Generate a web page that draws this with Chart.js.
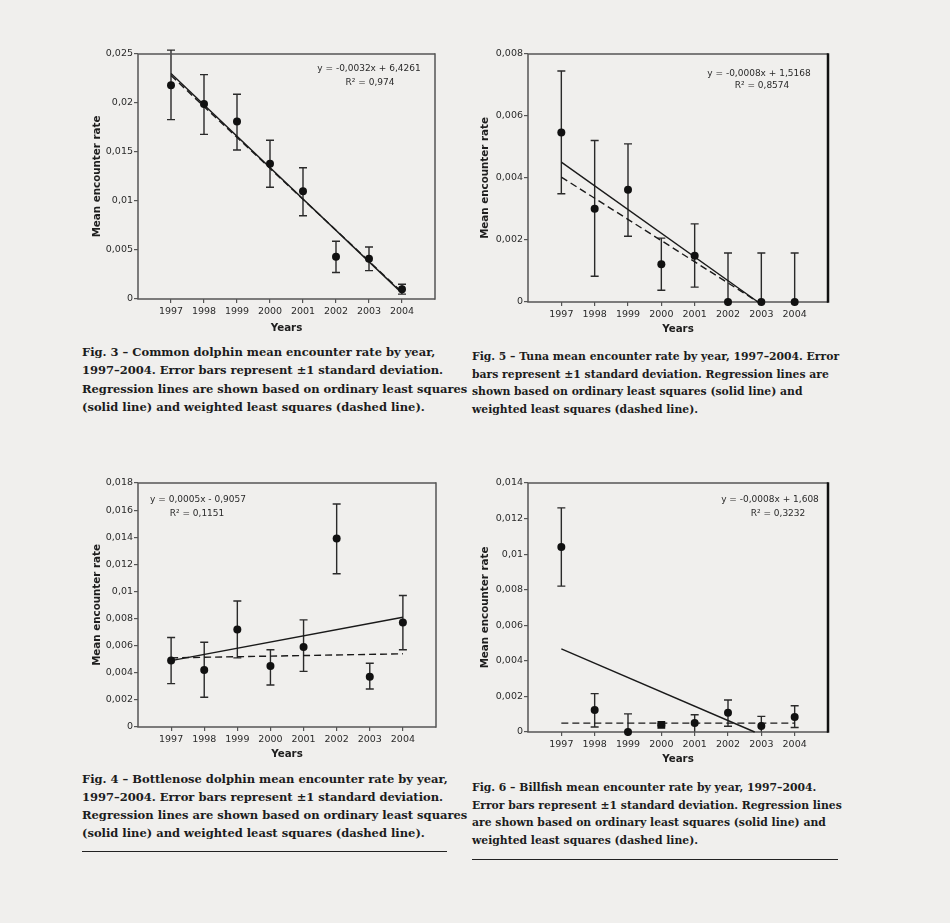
<!DOCTYPE html>
<html>
<head>
<meta charset="utf-8">
<script src="https://cdn.jsdelivr.net/npm/chart.js@4.4.0/dist/chart.umd.min.js"></script>
<style>
  body { margin: 0; background: #f0efed; width: 950px; height: 923px; position: relative; overflow: hidden; }
  .box { position: absolute; }
  .cap { position: absolute; font-family: "DejaVu Serif", serif; font-weight: bold; color: #1c1c1c; white-space: nowrap; }
  .eq { position: absolute; font-family: "DejaVu Sans", sans-serif; font-size: 9px; color: #2a2a2a; white-space: nowrap; transform: translate(-50%, -50%); }
  .rule { position: absolute; height: 1.3px; background: #222; }
</style>
</head>
<body>

<div class="box" id="fig3"><canvas></canvas></div>
<div class="box" id="fig5"><canvas></canvas></div>
<div class="box" id="fig4"><canvas></canvas></div>
<div class="box" id="fig6"><canvas></canvas></div>

<div class="eq" style="left:369px; top:68px">y = -0,0032x + 6,4261</div>
<div class="eq" style="left:370px; top:82px">R² = 0,974</div>
<div class="eq" style="left:759px; top:73px">y = -0,0008x + 1,5168</div>
<div class="eq" style="left:762px; top:85px">R² = 0,8574</div>
<div class="eq" style="left:198px; top:499px">y = 0,0005x - 0,9057</div>
<div class="eq" style="left:197px; top:513px">R² = 0,1151</div>
<div class="eq" style="left:770px; top:499px">y = -0,0008x + 1,608</div>
<div class="eq" style="left:778px; top:513px">R² = 0,3232</div>

<div class="cap" style="left:82px; top:343px; line-height:18.3px; font-size:11.5px">Fig. 3 – Common dolphin mean encounter rate by year,<br>1997–2004. Error bars represent ±1 standard deviation.<br>Regression lines are shown based on ordinary least squares<br>(solid line) and weighted least squares (dashed line).</div>
<div class="cap" style="left:472px; top:348px; line-height:17.6px; font-size:10.8px">Fig. 5 – Tuna mean encounter rate by year, 1997–2004. Error<br>bars represent ±1 standard deviation. Regression lines are<br>shown based on ordinary least squares (solid line) and<br>weighted least squares (dashed line).</div>
<div class="cap" style="left:82px; top:770px; line-height:18px; font-size:11.5px">Fig. 4 – Bottlenose dolphin mean encounter rate by year,<br>1997–2004. Error bars represent ±1 standard deviation.<br>Regression lines are shown based on ordinary least squares<br>(solid line) and weighted least squares (dashed line).</div>
<div class="cap" style="left:472px; top:779px; line-height:17.6px; font-size:10.8px">Fig. 6 – Billfish mean encounter rate by year, 1997–2004.<br>Error bars represent ±1 standard deviation. Regression lines<br>are shown based on ordinary least squares (solid line) and<br>weighted least squares (dashed line).</div>

<div class="rule" style="left:82px; top:851px; width:365px"></div>
<div class="rule" style="left:472px; top:859px; width:366px"></div>

<script>
const years = [1997, 1998, 1999, 2000, 2001, 2002, 2003, 2004];
const yearLabels = ["1997", "1998", "1999", "2000", "2001", "2002", "2003", "2004"];

// Fig. 3 - common dolphin
const dolphinMean = [0.0218, 0.0199, 0.0181, 0.0138, 0.0110, 0.0043, 0.0041, 0.0010];
const dolphinHigh = [0.0254, 0.0229, 0.0209, 0.0162, 0.0134, 0.0059, 0.0053, 0.0015];
const dolphinLow = [0.0183, 0.0168, 0.0152, 0.0114, 0.0085, 0.0027, 0.0029, 0.0005];
const dolphinOlsX = [1997, 2004];
const dolphinOlsY = [0.0230, 0.0006];
const dolphinWlsX = [1997, 2004];
const dolphinWlsY = [0.0228, 0.0007];
const dolphinTicks = [0, 0.005, 0.01, 0.015, 0.02, 0.025];
const dolphinLabels = ["0", "0,005", "0,01", "0,015", "0,02", "0,025"];

// Fig. 5 - tuna
const tunaMean = [0.00547, 0.00301, 0.00362, 0.00122, 0.00149, 0, 0, 0];
const tunaHigh = [0.00745, 0.00521, 0.00510, 0.00206, 0.00252, 0.00158, 0.00158, 0.00158];
const tunaLow = [0.00349, 0.00083, 0.00212, 0.00038, 0.00048, 0, 0, 0];
const tunaOlsX = [1997, 2002.9];
const tunaOlsY = [0.00451, 0];
const tunaWlsX = [1997, 2002.9];
const tunaWlsY = [0.00403, 0];
const tunaTicks = [0, 0.002, 0.004, 0.006, 0.008];
const tunaLabels = ["0", "0,002", "0,004", "0,006", "0,008"];

// Fig. 4 - bottlenose dolphin
const bottleMean = [0.0049, 0.0042, 0.0072, 0.0045, 0.0059, 0.0139, 0.0037, 0.0077];
const bottleHigh = [0.0066, 0.00625, 0.0093, 0.0057, 0.0079, 0.01645, 0.0047, 0.0097];
const bottleLow = [0.0032, 0.0022, 0.0051, 0.0031, 0.0041, 0.0113, 0.0028, 0.0057];
const bottleOlsX = [1997, 2004];
const bottleOlsY = [0.0049, 0.0081];
const bottleWlsX = [1997, 2004];
const bottleWlsY = [0.0051, 0.0054];
const bottleTicks = [0, 0.002, 0.004, 0.006, 0.008, 0.01, 0.012, 0.014, 0.016, 0.018];
const bottleLabels = ["0", "0,002", "0,004", "0,006", "0,008", "0,01", "0,012", "0,014", "0,016", "0,018"];

// Fig. 6 - billfish
const billMean = [0.0104, 0.00123, 0, 0.0004, 0.0005, 0.00108, 0.00034, 0.00085];
const billHigh = [0.0126, 0.00216, 0.00102, 0.00045, 0.00097, 0.0018, 0.00088, 0.00148];
const billLow = [0.0082, 0.00028, 0, 0.00035, 0, 0.00032, 0, 0.00025];
const billOlsX = [1997, 2002.8];
const billOlsY = [0.00467, 0];
const billWlsX = [1997, 2004];
const billWlsY = [0.0005, 0.0005];
const billTicks = [0, 0.002, 0.004, 0.006, 0.008, 0.01, 0.012, 0.014];
const billLabels = ["0", "0,002", "0,004", "0,006", "0,008", "0,01", "0,012", "0,014"];

// ----- error bars drawn under the points -----
const errorBars = {
  id: "errorBars",
  beforeDatasetsDraw(chart, args, opts) {
    const { ctx, scales: { x, y } } = chart;
    ctx.save();
    ctx.strokeStyle = "#2a2a2a";
    ctx.lineWidth = 1.4;
    opts.high.forEach((hi, i) => {
      const px = x.getPixelForValue(years[i]);
      const top = y.getPixelForValue(hi);
      const bot = y.getPixelForValue(opts.low[i]);
      ctx.beginPath();
      ctx.moveTo(px, top);
      ctx.lineTo(px, bot);
      ctx.moveTo(px - 4, top);
      ctx.lineTo(px + 4, top);
      if (opts.low[i] > 0) {
        ctx.moveTo(px - 4, bot);
        ctx.lineTo(px + 4, bot);
      }
      ctx.stroke();
    });
    ctx.restore();
  }
};

// ----- plot frame -----
const frame = {
  id: "frame",
  beforeDatasetsDraw(chart, args, opts) {
    const { ctx, chartArea: a } = chart;
    ctx.save();
    ctx.strokeStyle = "#555";
    ctx.lineWidth = 1.5;
    ctx.beginPath();
    ctx.moveTo(a.right, a.top);
    ctx.lineTo(a.left, a.top);
    ctx.lineTo(a.left, a.bottom);
    ctx.lineTo(a.right, a.bottom);
    ctx.stroke();
    ctx.strokeStyle = opts.rightColor;
    ctx.lineWidth = opts.rightWidth;
    ctx.beginPath();
    ctx.moveTo(a.right, a.top - 0.75);
    ctx.lineTo(a.right, a.bottom + 0.75);
    ctx.stroke();
    ctx.restore();
  }
};

const padL = 58, padT = 14, padR = 12, padB = 42;

function makeChart(id, cfg) {
  const box = document.getElementById(id);
  const [left, top, right, bottom] = cfg.area;
  box.style.left = (left - padL) + "px";
  box.style.top = (top - padT) + "px";
  box.style.width = (right - left + padL + padR) + "px";
  box.style.height = (bottom - top + padT + padB) + "px";

  const tickFont = { family: "DejaVu Sans", size: 9.5 };
  const titleFont = { family: "DejaVu Sans", size: 10.3, weight: "bold" };

  new Chart(box.querySelector("canvas"), {
    type: "scatter",
    data: {
      datasets: [
        {
          data: years.map((yr, i) => ({ x: yr, y: cfg.mean[i] })),
          pointRadius: cfg.pointRadius || 4,
          pointStyle: cfg.pointStyle || "circle",
          backgroundColor: "#111",
          borderColor: "#111",
          borderWidth: 0,
          clip: false,
          order: 0
        },
        {
          data: cfg.olsX.map((v, i) => ({ x: v, y: cfg.olsY[i] })),
          showLine: true,
          pointRadius: 0,
          borderColor: "#1a1a1a",
          borderWidth: 1.4,
          clip: false,
          order: 1
        },
        {
          data: cfg.wlsX.map((v, i) => ({ x: v, y: cfg.wlsY[i] })),
          showLine: true,
          pointRadius: 0,
          borderColor: "#1a1a1a",
          borderWidth: 1.4,
          borderDash: [7, 4],
          clip: false,
          order: 2
        }
      ]
    },
    options: {
      responsive: true,
      maintainAspectRatio: false,
      animation: false,
      layout: { padding: { top: padT, right: padR, left: 0, bottom: 0 } },
      plugins: {
        legend: { display: false },
        tooltip: { enabled: false },
        errorBars: { high: cfg.high, low: cfg.low },
        frame: { rightColor: cfg.rightColor || "#555", rightWidth: cfg.rightWidth || 1.5 }
      },
      scales: {
        x: {
          type: "linear",
          min: 1996,
          max: 2005,
          afterBuildTicks: (s) => { s.ticks = years.map((v) => ({ value: v })); },
          afterFit: (s) => { s.height = padB; },
          border: { display: false },
          grid: { drawOnChartArea: false, tickLength: 4, color: "#555", lineWidth: 1.2 },
          ticks: { padding: 3, color: "#2a2a2a", font: tickFont, maxRotation: 0, autoSkip: false, callback: (v, i) => yearLabels[i] },
          title: { display: true, text: "Years", color: "#1e1e1e", font: titleFont, padding: { top: 0, bottom: cfg.xTitlePad } }
        },
        y: {
          min: 0,
          max: cfg.ticks[cfg.ticks.length - 1],
          afterBuildTicks: (s) => { s.ticks = cfg.ticks.map((v) => ({ value: v })); },
          afterFit: (s) => { s.width = padL; },
          border: { display: false },
          grid: { drawOnChartArea: false, tickLength: 4, color: "#555", lineWidth: 1.2 },
          ticks: { padding: 1, color: "#2a2a2a", font: tickFont, callback: (v, i) => cfg.labels[i] },
          title: { display: true, text: "Mean encounter rate", color: "#1e1e1e", font: titleFont, padding: { top: cfg.yTitlePad, bottom: 0 } }
        }
      }
    },
    plugins: [errorBars, frame]
  });
}

makeChart("fig3", {
  area: [138, 54, 435, 299],
  mean: dolphinMean, high: dolphinHigh, low: dolphinLow,
  olsX: dolphinOlsX, olsY: dolphinOlsY, wlsX: dolphinWlsX, wlsY: dolphinWlsY,
  ticks: dolphinTicks, labels: dolphinLabels,
  xTitlePad: 6, yTitlePad: 11
});

makeChart("fig5", {
  area: [528, 54, 828, 302],
  mean: tunaMean, high: tunaHigh, low: tunaLow,
  olsX: tunaOlsX, olsY: tunaOlsY, wlsX: tunaWlsX, wlsY: tunaWlsY,
  ticks: tunaTicks, labels: tunaLabels,
  rightColor: "#111", rightWidth: 2.5,
  xTitlePad: 8, yTitlePad: 9
});

makeChart("fig4", {
  area: [138, 483, 436, 727],
  mean: bottleMean, high: bottleHigh, low: bottleLow,
  olsX: bottleOlsX, olsY: bottleOlsY, wlsX: bottleWlsX, wlsY: bottleWlsY,
  ticks: bottleTicks, labels: bottleLabels,
  xTitlePad: 8, yTitlePad: 11
});

makeChart("fig6", {
  area: [528, 483, 828, 732],
  mean: billMean, high: billHigh, low: billLow,
  olsX: billOlsX, olsY: billOlsY, wlsX: billWlsX, wlsY: billWlsY,
  ticks: billTicks, labels: billLabels,
  pointStyle: ["circle", "circle", "circle", "rect", "circle", "circle", "circle", "circle"],
  pointRadius: [4, 4, 4, 5.5, 4, 4, 4, 4],
  rightColor: "#111", rightWidth: 2.5,
  xTitlePad: 8, yTitlePad: 9
});
</script>
</body>
</html>
